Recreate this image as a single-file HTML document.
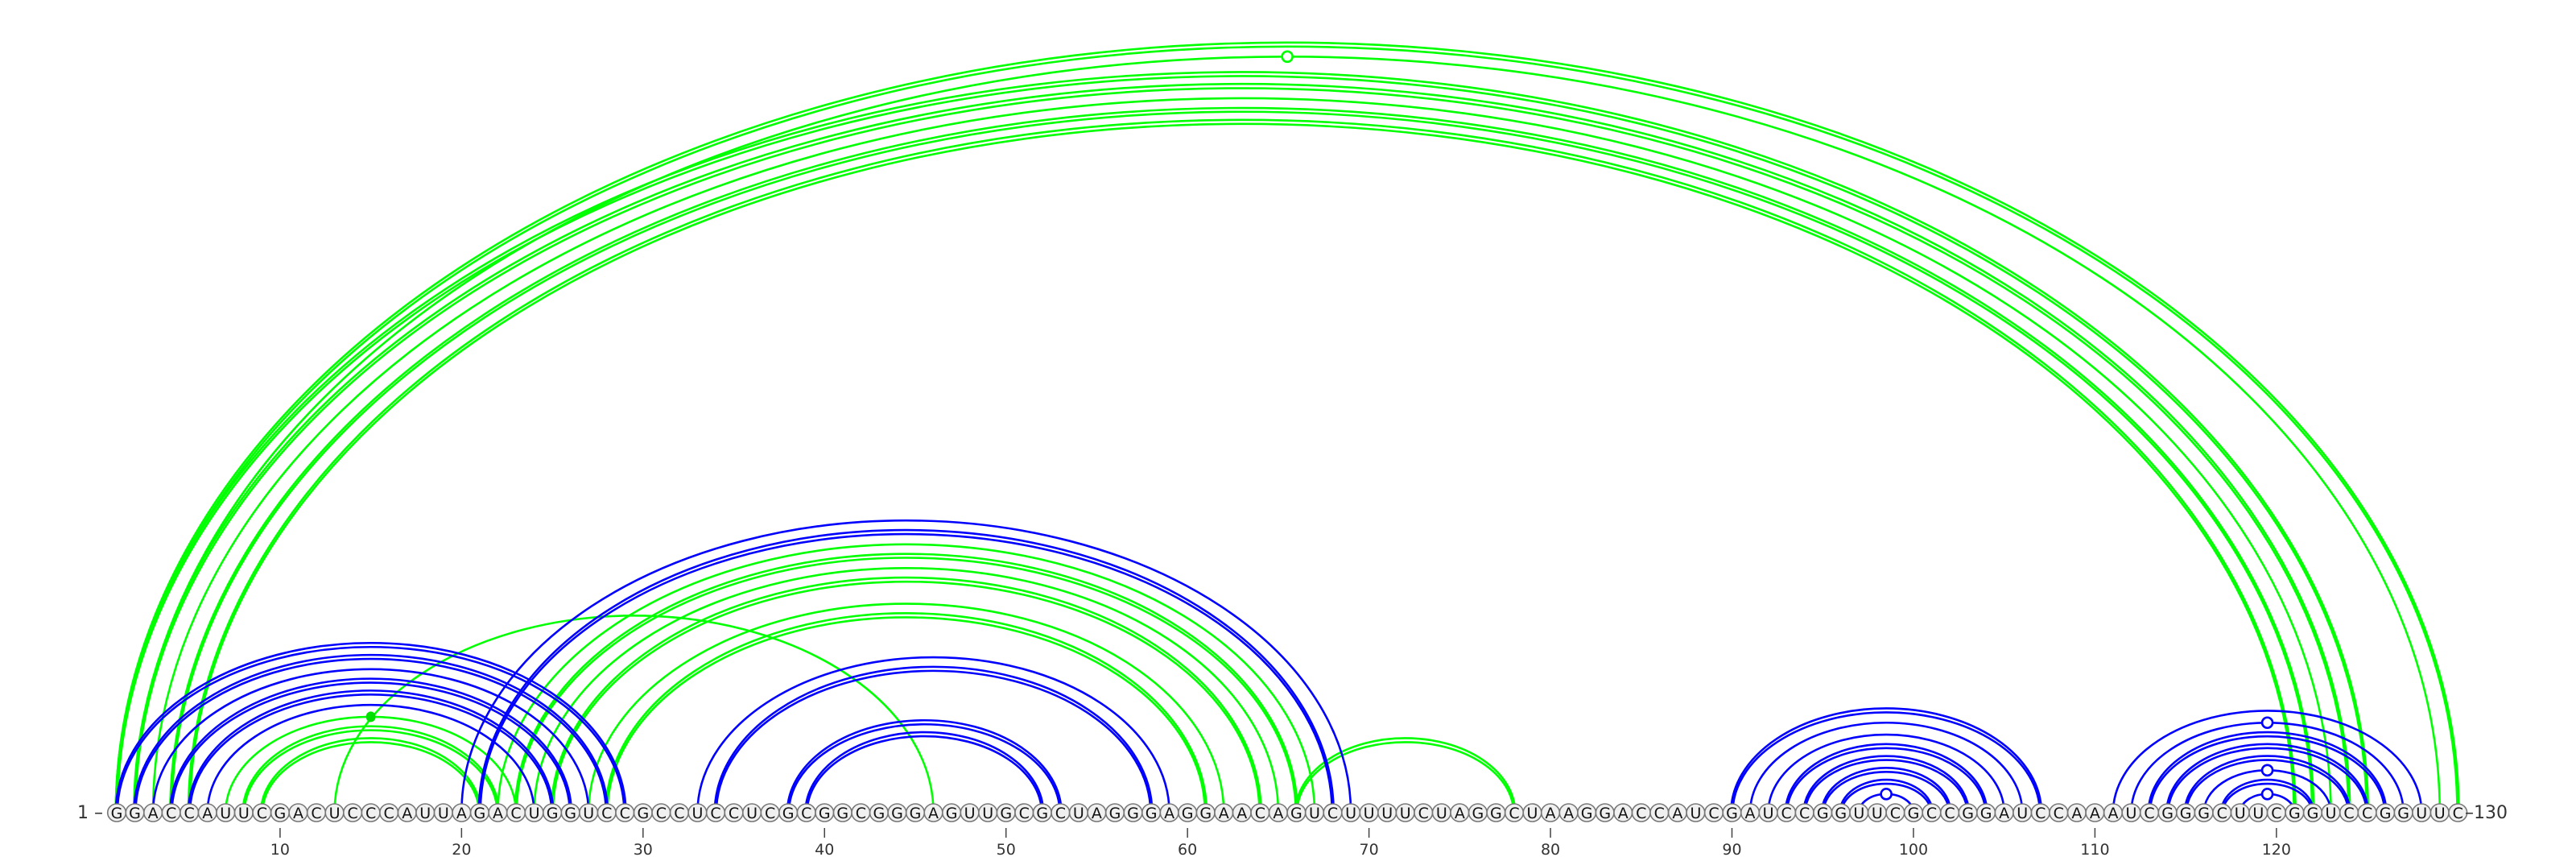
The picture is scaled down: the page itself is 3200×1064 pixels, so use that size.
<!DOCTYPE html>
<html><head><meta charset="utf-8">
<style>
html,body{margin:0;padding:0;background:#fff;}
svg{display:block;}
text{font-family:"DejaVu Sans","Liberation Sans",sans-serif;}
</style></head>
<body>
<svg id="chart" width="3200" height="1064" viewBox="0 0 3200 1064" xmlns="http://www.w3.org/2000/svg">
<g id="arcs"></g>
<g id="markers"></g>
<g id="ticks"></g>
<g id="nts"></g>
<text x="96" y="1016" font-size="22" fill="#333">1 –</text>
<text x="3062" y="1016" font-size="22" fill="#333">–130</text>
</svg>
<script>
const sequence = "GGACCAUUCGACUCCCAUUAGACUGGUCCGCCUCCUCGCGGCGGGAGUUGCGCUAGGGAGGAACAGUCUUUUCUAGGCUAAGGACCAUCGAUCCGGUUCGCCGGAUCCAAAUCGGGCUUCGGUCCGGUUC";
const tickValues = [10,20,30,40,50,60,70,80,90,100,110,120];
// green structure pairs
const greenI = [1,2,1,2,3,4,5,7,8,9,13,22,23,24,25,27,28,66];
const greenJ = [130,129,125,124,123,122,121,23,22,21,46,67,66,65,64,62,61,78];
const greenDouble = [1,0,1,1,0,1,1,0,1,1,0,0,1,0,1,0,1,1];
// blue structure pairs
const blueI = [1,2,3,4,5,6,20,21,33,34,38,39,90,91,92,93,94,95,96,97,111,112,113,114,115,116,117,118];
const blueJ = [29,28,27,26,25,24,69,68,59,58,53,52,107,106,105,104,103,102,101,100,128,127,126,125,124,123,122,121];
const blueDouble = [1,1,0,1,1,0,0,1,0,1,1,1,1,0,0,1,1,1,1,0,0,0,1,1,1,0,1,0];
// markers at arc apex: [i, j]
const openMarkI = [2,97,112,116,118];
const openMarkJ = [129,100,127,123,121];
const openMarkColor = ["#00ff00","#0000ff","#0000ff","#0000ff","#0000ff"];
const filledMarkI = [7];
const filledMarkJ = [23];

const NS = "http://www.w3.org/2000/svg";
const Y0 = 1009;
function xPos(n){ return 145 + (n-1)*22.545; }
function rxOf(i,j){ return (xPos(j)-xPos(i))/2; }
function ryOf(rx){ return 0.655*rx + 1; }

const arcsG = document.getElementById('arcs');
function arcPath(i,j,off){
  const x1 = xPos(i)-off*0.8, x2 = xPos(j)+off*0.8;
  const rx = (x2-x1)/2;
  const ry = ryOf(rxOf(i,j)) + off*2;
  return `M${x1} ${Y0} A${rx} ${ry} 0 0 1 ${x2} ${Y0}`;
}
function drawSet(I,J,D,color,name){
  for(let k=0;k<I.length;k++){
    const offs = D[k] ? [-1,1.5] : [0];
    offs.forEach(o=>{
      const p = document.createElementNS(NS,'path');
      p.setAttribute('d', arcPath(I[k],J[k],o));
      p.setAttribute('fill','none');
      p.setAttribute('stroke',color);
      p.setAttribute('stroke-width','2.6');
      
      
      arcsG.appendChild(p);
    });
  }
}
drawSet(greenI,greenJ,greenDouble,'#00ff00','green');
drawSet(blueI,blueJ,blueDouble,'#0000ff','blue');

const mG = document.getElementById('markers');
for(let k=0;k<openMarkI.length;k++){
  const i=openMarkI[k], j=openMarkJ[k];
  const c = document.createElementNS(NS,'circle');
  c.setAttribute('cx', (xPos(i)+xPos(j))/2);
  c.setAttribute('cy', Y0 - ryOf(rxOf(i,j)));
  c.setAttribute('r', 6.5);
  c.setAttribute('fill','#fff');
  c.setAttribute('stroke',openMarkColor[k]);
  c.setAttribute('stroke-width','2.6');
  
  
  mG.appendChild(c);
}
for(let k=0;k<filledMarkI.length;k++){
  const i=filledMarkI[k], j=filledMarkJ[k];
  const c = document.createElementNS(NS,'ellipse');
  c.setAttribute('cx', (xPos(i)+xPos(j))/2);
  c.setAttribute('cy', Y0 - ryOf(rxOf(i,j)));
  c.setAttribute('rx', 6);
  c.setAttribute('ry', 6.5);
  c.setAttribute('fill','#00e000');
  
  
  mG.appendChild(c);
}

const tG = document.getElementById('ticks');
tickValues.forEach(v=>{
  const l = document.createElementNS(NS,'line');
  l.setAttribute('x1',xPos(v)); l.setAttribute('x2',xPos(v));
  l.setAttribute('y1',1028); l.setAttribute('y2',1040);
  l.setAttribute('stroke','#444'); l.setAttribute('stroke-width','1.5');
  
  
  tG.appendChild(l);
  const t = document.createElementNS(NS,'text');
  t.setAttribute('x',xPos(v)); t.setAttribute('y',1061);
  t.setAttribute('text-anchor','middle'); t.setAttribute('font-size','19');
  t.setAttribute('fill','#333');
  t.textContent = v;
  
  
  tG.appendChild(t);
});

const nG = document.getElementById('nts');
for(let n=1;n<=sequence.length;n++){
  const g = document.createElementNS(NS,'g');
  
  
  const c = document.createElementNS(NS,'ellipse');
  c.setAttribute('cx',xPos(n)); c.setAttribute('cy',Y0);
  c.setAttribute('rx',11.3); c.setAttribute('ry',11);
  c.setAttribute('fill','#f0f0f0'); c.setAttribute('stroke','#777'); c.setAttribute('stroke-width','1.6');
  g.appendChild(c);
  const t = document.createElementNS(NS,'text');
  t.setAttribute('x',xPos(n)); t.setAttribute('y',Y0+7);
  t.setAttribute('text-anchor','middle'); t.setAttribute('font-size','19');
  t.setAttribute('fill','#111');
  t.textContent = sequence[n-1];
  g.appendChild(t);
  nG.appendChild(g);
}
</script>
</body></html>
